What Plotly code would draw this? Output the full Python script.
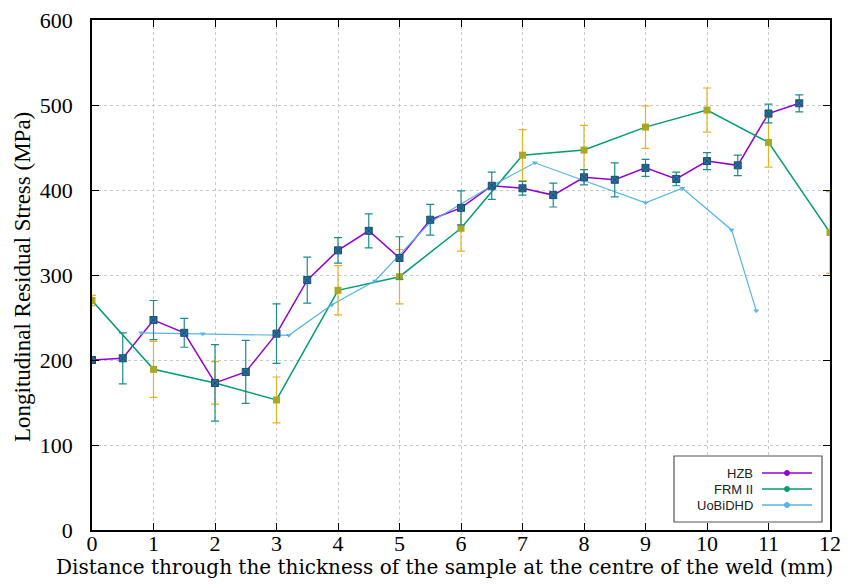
import plotly.graph_objects as go

# ---------------- data ----------------
hzb_x = [0, 0.5, 1, 1.5, 2, 2.5, 3, 3.5, 4, 4.5, 5, 5.5, 6, 6.5, 7, 7.5, 8, 8.5, 9, 9.5, 10, 10.5, 11, 11.5]
hzb_y = [200, 202, 247, 232, 173, 186, 231, 294, 329, 352, 320, 365, 379, 405, 402, 394, 415, 412, 426, 413, 434, 429, 490, 502]
hzb_err = [4, 30, 23, 17, 45, 37, 35, 27, 15, 20, 25, 18, 20, 16, 8, 14, 9, 20, 10, 8, 10, 12, 11, 10]

frm_x = [0, 1, 2, 3, 4, 5, 6, 7, 8, 9, 10, 11, 12]
frm_y = [270, 189, 173, 153, 282, 298, 355, 441, 447, 474, 494, 456, 350]
frm_err = [6, 33, 25, 27, 29, 32, 27, 30, 29, 25, 26, 29, 48]

uob_x = [0.8, 1.8, 3.2, 3.9, 4.6, 5.5, 6.5, 7.2, 8.0, 9.0, 9.6, 10.4, 10.8]
uob_y = [232, 231, 229, 265, 293, 362, 405, 432, 411, 385, 402, 353, 258]

x_ticks = list(range(0, 13))
y_ticks = [0, 100, 200, 300, 400, 500, 600]

names = ["HZB", "FRM II", "UoBiDHD"]
line_colors = ["#9400D3", "#009E73", "#56B4E9"]

fig = go.Figure()

# lines
fig.add_trace(go.Scatter(x=hzb_x, y=hzb_y, mode="lines+markers", name=names[0],
                         line=dict(color=line_colors[0], width=1.5),
                         marker=dict(symbol="triangle-up", size=5, color=line_colors[0]),
                         showlegend=False))
fig.add_trace(go.Scatter(x=frm_x, y=frm_y, mode="lines+markers", name=names[1],
                         line=dict(color=line_colors[1], width=1.5),
                         marker=dict(symbol="triangle-down", size=5, color=line_colors[1]),
                         showlegend=False))
fig.add_trace(go.Scatter(x=uob_x, y=uob_y, mode="lines+markers", name=names[2],
                         line=dict(color=line_colors[2], width=1.2),
                         marker=dict(symbol="triangle-down", size=5, color=line_colors[2]),
                         showlegend=False))

# error bar overlays
fig.add_trace(go.Scatter(x=frm_x, y=frm_y, mode="markers",
                         error_y=dict(type="data", array=frm_err, color="#E6B422", thickness=1.2, width=4),
                         marker=dict(symbol="square", size=7, color="#A8A824"),
                         showlegend=False, hoverinfo="skip"))
fig.add_trace(go.Scatter(x=hzb_x, y=hzb_y, mode="markers",
                         error_y=dict(type="data", array=hzb_err, color="#1E8C8C", thickness=1.2, width=4),
                         marker=dict(symbol="square-x", size=7, color="#2A6F9E",
                                     line=dict(color="#1B4F72", width=1)),
                         showlegend=False, hoverinfo="skip"))

# ---------------- custom legend (text left of sample) ----------------
PW, PH = 738, 510
def px2x(px):
    return (px - 92) / PW
def py2y(py):
    return (530 - py) / PH

shapes = [dict(type="rect", xref="paper", yref="paper", x0=px2x(674), x1=px2x(822),
               y0=py2y(522), y1=py2y(456),
               line=dict(color="#555555", width=1.2), fillcolor="white", layer="above")]
annotations = []
row_y = [py2y(473), py2y(489), py2y(505)]
tx = px2x(755)
lx0 = px2x(762)
lx1 = px2x(812)
for nm, col, ry in zip(names, line_colors, row_y):
    annotations.append(dict(xref="paper", yref="paper", x=tx, y=ry, text=nm, showarrow=False,
                            xanchor="right", yanchor="middle",
                            font=dict(family="Liberation Sans", size=13, color="#222222")))
    shapes.append(dict(type="line", xref="paper", yref="paper", x0=lx0, x1=lx1, y0=ry, y1=ry,
                       line=dict(color=col, width=1.5), layer="above"))
    mx = (lx0 + lx1) / 2
    shapes.append(dict(type="circle", xref="paper", yref="paper",
                       x0=mx - 2.5 / PW, x1=mx + 2.5 / PW, y0=ry - 2.5 / PH, y1=ry + 2.5 / PH,
                       line=dict(color=col, width=1), fillcolor=col, layer="above"))

# axis titles as annotations for exact placement
annotations.append(dict(xref="paper", yref="paper", x=px2x(444), y=py2y(567),
                        text="Distance through the thickness of the sample at the centre of the weld (mm)",
                        showarrow=False, xanchor="center", yanchor="middle",
                        font=dict(family="DejaVu Serif", size=20, color="black")))
annotations.append(dict(xref="paper", yref="paper", x=px2x(22), y=py2y(277),
                        text="Longitudinal Residual Stress (MPa)", textangle=-90,
                        showarrow=False, xanchor="center", yanchor="middle",
                        font=dict(family="Liberation Serif", size=23, color="black")))

axis_common = dict(showline=True, linecolor="black", linewidth=1.5, mirror="allticks",
                   ticks="inside", ticklen=7, tickcolor="black", tickwidth=1,
                   showgrid=True, gridcolor="#c8c8c8", griddash="dot", gridwidth=1,
                   zeroline=False, automargin=False,
                   tickfont=dict(family="Liberation Serif", size=22, color="black"))

fig.update_layout(
    width=859, height=588,
    margin=dict(l=92, r=29, t=20, b=58),
    paper_bgcolor="white", plot_bgcolor="white",
    xaxis=dict(range=[0, 12], tickvals=x_ticks, ticktext=[str(v) for v in x_ticks],
               ticklabelstandoff=-7, **axis_common),
    yaxis=dict(range=[0, 600], tickvals=y_ticks, ticktext=[str(v) for v in y_ticks],
               ticklabelstandoff=13, **axis_common),
    shapes=shapes, annotations=annotations,
    showlegend=False,
)

fig.write_html("out.html", config={"displayModeBar": False},
               post_script="document.body.style.margin='0';document.body.style.padding='0';")
